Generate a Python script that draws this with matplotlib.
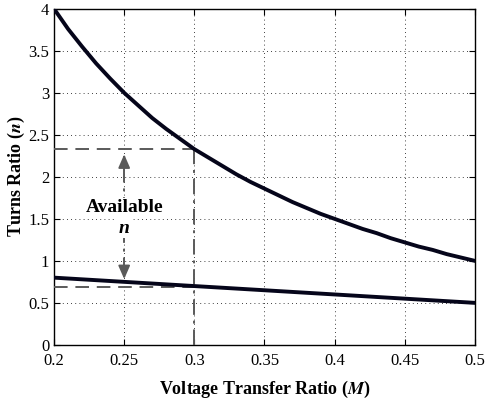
import matplotlib
matplotlib.use("Agg")
import matplotlib.pyplot as plt

# values
M = [0.20, 0.21, 0.22, 0.23, 0.24, 0.25, 0.26, 0.27, 0.28, 0.29,
     0.30, 0.31, 0.32, 0.33, 0.34, 0.35, 0.36, 0.37, 0.38, 0.39,
     0.40, 0.41, 0.42, 0.43, 0.44, 0.45, 0.46, 0.47, 0.48, 0.49, 0.50]
n_upper = [4.00, 3.76, 3.55, 3.35, 3.17, 3.00, 2.85, 2.70, 2.57, 2.45,
           2.33, 2.23, 2.13, 2.03, 1.94, 1.86, 1.78, 1.70, 1.63, 1.56,
           1.50, 1.44, 1.38, 1.33, 1.27, 1.22, 1.17, 1.13, 1.08, 1.04, 1.00]
n_lower = [0.80, 0.79, 0.78, 0.77, 0.76, 0.75, 0.74, 0.73, 0.72, 0.71,
           0.70, 0.69, 0.68, 0.67, 0.66, 0.65, 0.64, 0.63, 0.62, 0.61,
           0.60, 0.59, 0.58, 0.57, 0.56, 0.55, 0.54, 0.53, 0.52, 0.51, 0.50]

M_op = 0.30          # chosen operating point
n_max = 2.33         # upper bound at M_op
n_min = 0.69         # lower bound at M_op
M_arrow = 0.25
n_arrow_lo = 0.75

plt.rcParams["font.family"] = ["Liberation Serif", "DejaVu Serif"]
plt.rcParams["mathtext.fontset"] = "stix"

fig = plt.figure(figsize=(4.87, 4.01), dpi=100)
ax = fig.add_axes([0.111, 0.140, 0.864, 0.838])

gray = "#5a5a5a"
ax.plot(M, n_upper, color="#05051a", lw=2.8, zorder=4, solid_joinstyle="round")
ax.plot(M, n_lower, color="#05051a", lw=2.8, zorder=4, solid_joinstyle="round")

# guide lines
ax.plot([0.2, M_op], [n_max, n_max], color=gray, lw=1.4, ls=(0, (7, 4)), zorder=3)
ax.plot([0.2, M_op], [n_min, n_min], color=gray, lw=1.4, ls=(0, (7, 4)), zorder=3)
ax.plot([M_op, M_op], [0, n_max], color=gray, lw=1.4, ls=(0, (8, 3, 1.5, 3)), zorder=3)

# double arrow showing available n
ax.plot([M_arrow, M_arrow], [n_arrow_lo + 0.1, n_max - 0.1], color=gray, lw=1.4,
        ls=(0, (8, 3, 1.5, 3)), zorder=3)
for y0, y1 in [(n_max - 0.15, n_max - 0.03), (n_arrow_lo + 0.15, n_arrow_lo)]:
    ax.annotate("", xy=(M_arrow, y1), xytext=(M_arrow, y0),
                arrowprops=dict(arrowstyle="-|>,head_length=0.8,head_width=0.35",
                                color=gray, lw=1.4), zorder=5)

ax.text(M_arrow, 1.63, "Available", ha="center", va="center", fontsize=14,
        fontweight="bold", bbox=dict(fc="white", ec="none", pad=1), zorder=6)
ax.text(M_arrow, 1.39, "n", ha="center", va="center", fontsize=14,
        fontweight="bold", style="italic",
        bbox=dict(fc="white", ec="none", pad=1), zorder=6)

ax.set_xlim(0.2, 0.5)
ax.set_ylim(0, 4)
ax.set_xticks([0.2, 0.25, 0.3, 0.35, 0.4, 0.45, 0.5])
ax.set_xticklabels(["0.2", "0.25", "0.3", "0.35", "0.4", "0.45", "0.5"])
ax.set_yticks([0, 0.5, 1, 1.5, 2, 2.5, 3, 3.5, 4])
ax.set_yticklabels(["0", "0.5", "1", "1.5", "2", "2.5", "3", "3.5", "4"])
ax.tick_params(direction="in", labelsize=12, length=4, width=0.8,
               top=True, right=True)
ax.tick_params(axis="x", pad=6)
ax.grid(True, color="black", ls=(0, (1, 4)), lw=0.6)
for s in ax.spines.values():
    s.set_linewidth(1.0)

ax.set_xlabel("Voltage Transfer Ratio ($\\boldsymbol{M}$)", fontsize=13,
              fontweight="bold", labelpad=7)
ax.set_ylabel("Turns Ratio ($\\boldsymbol{n}$)", fontsize=13,
              fontweight="bold", labelpad=1)

fig.savefig("out.png", dpi=100)
